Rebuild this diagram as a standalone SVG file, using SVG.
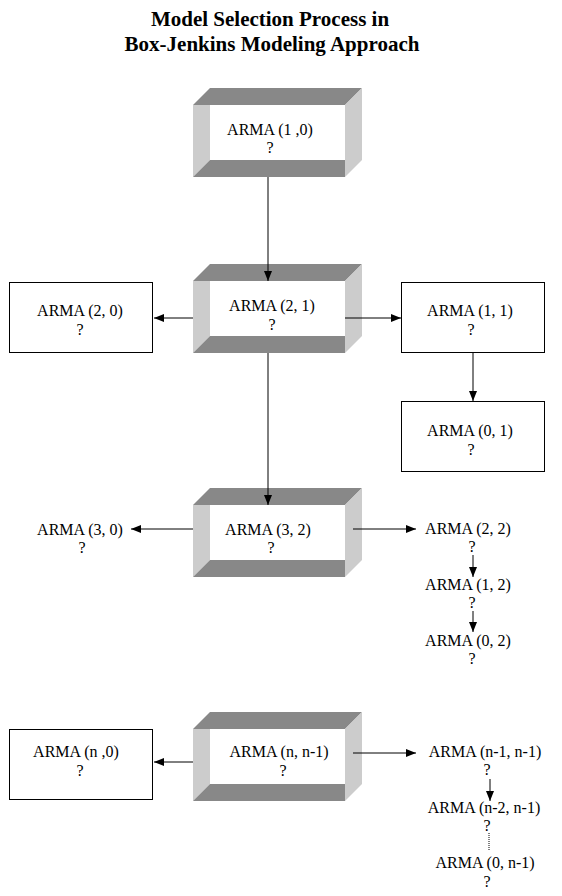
<svg xmlns="http://www.w3.org/2000/svg" width="562" height="896" viewBox="0 0 562 896">
<style>
text{font-family:"Liberation Serif","Times New Roman",serif;font-size:16px;fill:#000;text-anchor:middle}
.title{font-size:21px;font-weight:bold}
.dk{fill:#888888}
.lt{fill:#cccccc}
.rect{fill:#fff;stroke:#000;stroke-width:1}
.con{stroke:#000;stroke-width:1;fill:none}
</style>
<defs>
<marker id="ah" markerUnits="userSpaceOnUse" markerWidth="11" markerHeight="9" refX="10" refY="4" orient="auto">
<path d="M0,0 L10,4 L0,8 z" fill="#000"/>
</marker>
<g id="bevel">
<rect x="193" y="17" width="169" height="72" fill="#fff"/>
<polygon class="dk" points="210,0 362,0 345,17 193,17"/>
<polygon class="lt" points="193,17 210,17 210,72 193,89"/>
<polygon class="dk" points="210,72 345,72 345,89 193,89"/>
<polygon class="lt" points="345,17 362,0 362,72 345,89"/>
</g>
</defs>
<rect width="562" height="896" fill="#fff"/>
<g id="title">
<text class="title" x="270" y="26">Model Selection Process in</text>
<text class="title" x="272" y="51">Box-Jenkins Modeling Approach</text>
</g>
<g id="arma10">
<use href="#bevel" y="88"/>
<text x="270" y="135">ARMA (1 ,0)</text>
<text x="270" y="153">?</text>
</g>
<g id="arma21">
<use href="#bevel" y="264"/>
<text x="272" y="311">ARMA (2, 1)</text>
<text x="272" y="330">?</text>
</g>
<g id="arma20">
<rect class="rect" x="9.5" y="282.5" width="143" height="70"/>
<text x="80" y="316">ARMA (2, 0)</text>
<text x="80" y="335">?</text>
</g>
<g id="arma11">
<rect class="rect" x="401.5" y="282.5" width="143" height="70"/>
<text x="470" y="316">ARMA (1, 1)</text>
<text x="471" y="335">?</text>
</g>
<g id="arma01">
<rect class="rect" x="401.5" y="401.5" width="143" height="70"/>
<text x="470" y="436">ARMA (0, 1)</text>
<text x="471" y="455">?</text>
</g>
<g id="arma32">
<use href="#bevel" y="488"/>
<text x="268" y="535">ARMA (3, 2)</text>
<text x="271" y="553">?</text>
</g>
<g id="arma30">
<text x="80" y="535">ARMA (3, 0)</text>
<text x="82" y="553">?</text>
</g>
<g id="arma22">
<text x="468" y="534">ARMA (2, 2)</text>
<text x="472" y="552">?</text>
</g>
<g id="arma12">
<text x="468" y="590">ARMA (1, 2)</text>
<text x="472" y="608">?</text>
</g>
<g id="arma02">
<text x="468" y="646">ARMA (0, 2)</text>
<text x="472" y="664">?</text>
</g>
<g id="armann1">
<use href="#bevel" y="712"/>
<text x="279" y="757">ARMA (n, n-1)</text>
<text x="283" y="776">?</text>
</g>
<g id="arman0">
<rect class="rect" x="9.5" y="729.5" width="143" height="70"/>
<text x="76" y="757">ARMA (n ,0)</text>
<text x="80" y="776">?</text>
</g>
<g id="arman1n1">
<text x="485" y="757">ARMA (n-1, n-1)</text>
<text x="487" y="775">?</text>
</g>
<g id="arman2n1">
<text x="484" y="813">ARMA (n-2, n-1)</text>
<text x="487" y="831">?</text>
</g>
<g id="arma0n1">
<text x="485" y="868">ARMA (0, n-1)</text>
<text x="487" y="887">?</text>
</g>
<g id="connectors">
<line class="con" x1="268" y1="177" x2="268" y2="281" marker-end="url(#ah)"/>
<line class="con" x1="193" y1="318" x2="154" y2="318" marker-end="url(#ah)"/>
<line class="con" x1="345" y1="318" x2="401" y2="318" marker-end="url(#ah)"/>
<line class="con" x1="473" y1="352" x2="473" y2="401" marker-end="url(#ah)"/>
<line class="con" x1="268" y1="353" x2="268" y2="505" marker-end="url(#ah)"/>
<line class="con" x1="193" y1="529" x2="131" y2="529" marker-end="url(#ah)"/>
<line class="con" x1="353" y1="529" x2="416" y2="529" marker-end="url(#ah)"/>
<line class="con" x1="473" y1="555" x2="473" y2="577" marker-end="url(#ah)"/>
<line class="con" x1="473" y1="611" x2="473" y2="632" marker-end="url(#ah)"/>
<line class="con" x1="193" y1="762" x2="154" y2="762" marker-end="url(#ah)"/>
<line class="con" x1="353" y1="753" x2="416" y2="753" marker-end="url(#ah)"/>
<line class="con" x1="490" y1="779" x2="490" y2="801" marker-end="url(#ah)"/>
<line class="con" x1="489" y1="833" x2="489" y2="850" stroke-dasharray="1,1"/>
</g>
</svg>
